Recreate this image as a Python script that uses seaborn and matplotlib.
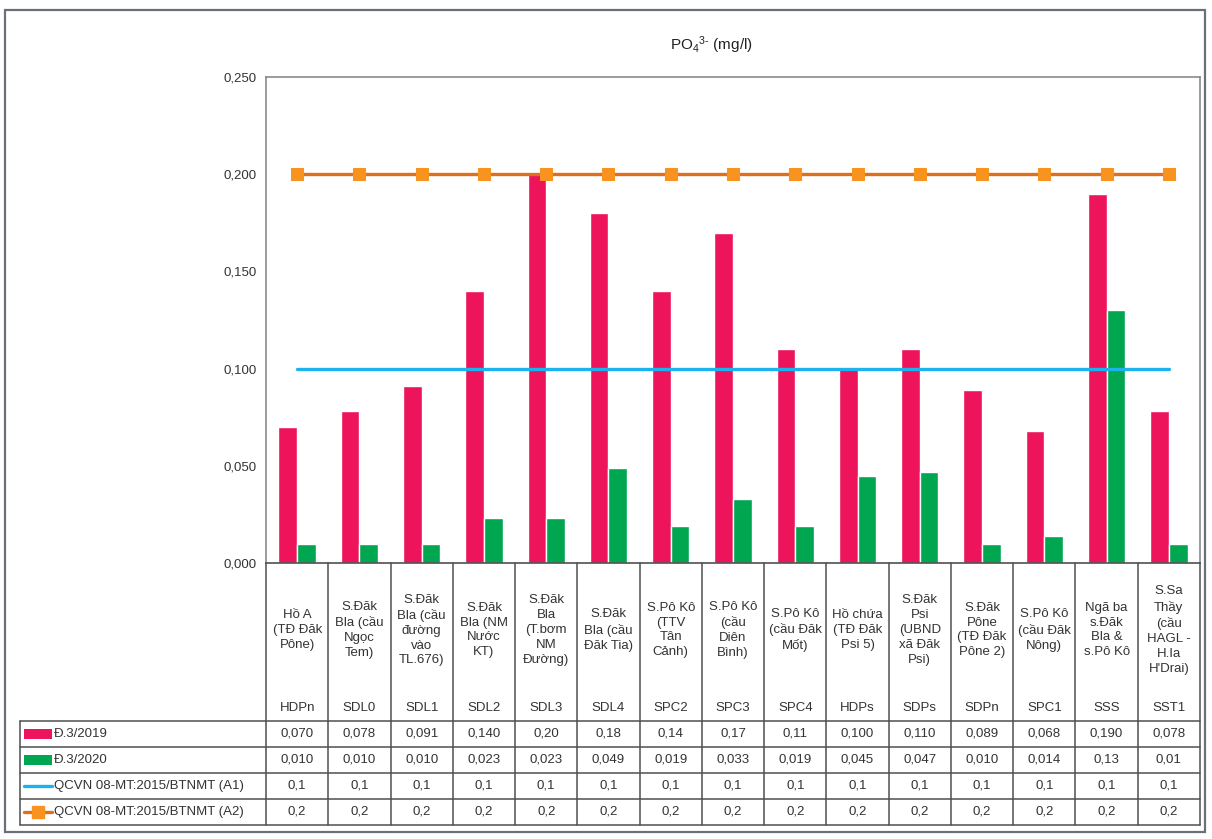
import numpy as np
import pandas as pd
import matplotlib
matplotlib.use("Agg")
import matplotlib.pyplot as plt
from matplotlib.patches import Rectangle
from matplotlib.lines import Line2D
import seaborn as sns

sns.set_style("white")
plt.rcParams["font.family"] = ["Liberation Sans", "DejaVu Sans"]
plt.rcParams["mathtext.fontset"] = "custom"
plt.rcParams["mathtext.rm"] = "Liberation Sans"
plt.rcParams["mathtext.default"] = "regular"

# ---- data -------------------------------------------------------------
site_names = [
    "Hồ A\n(TĐ Đăk\nPône)",
    "S.Đăk\nBla (cầu\nNgọc\nTem)",
    "S.Đăk\nBla (cầu\nđường\nvào\nTL.676)",
    "S.Đăk\nBla (NM\nNước\nKT)",
    "S.Đăk\nBla\n(T.bơm\nNM\nĐường)",
    "S.Đăk\nBla (cầu\nĐăk Tia)",
    "S.Pô Kô\n(TTV\nTân\nCảnh)",
    "S.Pô Kô\n(cầu\nDiên\nBình)",
    "S.Pô Kô\n(cầu Đăk\nMốt)",
    "Hồ chứa\n(TĐ Đăk\nPsi 5)",
    "S.Đăk\nPsi\n(UBND\nxã Đăk\nPsi)",
    "S.Đăk\nPône\n(TĐ Đăk\nPône 2)",
    "S.Pô Kô\n(cầu Đăk\nNông)",
    "Ngã ba\ns.Đăk\nBla &\ns.Pô Kô",
    "S.Sa\nThầy\n(cầu\nHAGL -\nH.Ia\nH'Drai)",
]
site_codes = ["HDPn", "SDL0", "SDL1", "SDL2", "SDL3", "SDL4", "SPC2", "SPC3",
              "SPC4", "HDPs", "SDPs", "SDPn", "SPC1", "SSS", "SST1"]

# table cells exactly as printed; numeric values are parsed from them
cells_2019 = ["0,070", "0,078", "0,091", "0,140", "0,20", "0,18", "0,14", "0,17",
              "0,11", "0,100", "0,110", "0,089", "0,068", "0,190", "0,078"]
cells_2020 = ["0,010", "0,010", "0,010", "0,023", "0,023", "0,049", "0,019", "0,033",
              "0,019", "0,045", "0,047", "0,010", "0,014", "0,13", "0,01"]
cells_a1 = ["0,1"] * 15
cells_a2 = ["0,2"] * 15

series_names = ["Đ.3/2019", "Đ.3/2020",
                "QCVN 08-MT:2015/BTNMT (A1)", "QCVN 08-MT:2015/BTNMT (A2)"]
y_ticks = [0.0, 0.05, 0.10, 0.15, 0.20, 0.25]


def to_num(cells):
    return [float(c.replace(",", ".")) for c in cells]


v2019, v2020, a1, a2 = map(to_num, (cells_2019, cells_2020, cells_a1, cells_a2))
n = len(site_codes)

bars = pd.DataFrame({
    "site": site_codes * 2,
    "value": v2019 + v2020,
    "series": [series_names[0]] * n + [series_names[1]] * n,
})

PINK, GREEN = "#EE145B", "#00A650"
BLUE, ORANGE, ORANGE_MK = "#1CB2EE", "#DE6F1C", "#F7931E"
GRID = "#505050"

# ---- layout (pixel helpers) ---------------------------------------------
W, H = 1212, 839
fig = plt.figure(figsize=(W / 100, H / 100), dpi=100)
fig.patch.set_facecolor("white")


def fx(px):
    return px / W


def fy(py):
    return 1 - py / H


PL, PR, PT, PB = 266, 1200, 77, 563   # plot area
TB = 825                              # table bottom
ROWS = [721, 747, 773, 799, 825]      # table row lines

# outer chart frame
fig.patches.append(Rectangle((fx(5), fy(832)), fx(1205) - fx(5), fy(10) - fy(832),
                             transform=fig.transFigure, fill=False,
                             edgecolor="#6b6f7a", lw=1.6, zorder=0))

ax = fig.add_axes([fx(PL), fy(PB), fx(PR) - fx(PL), fy(PT) - fy(PB)])

sns.barplot(data=bars, x="site", y="value", hue="series",
            palette=[PINK, GREEN], width=0.6, saturation=1,
            errorbar=None, legend=False, ax=ax, zorder=2)

sns.lineplot(x=np.arange(n), y=a1, ax=ax, color=BLUE, linewidth=2.4, zorder=3)
sns.lineplot(x=np.arange(n), y=a2, ax=ax, color=ORANGE, linewidth=2.4,
             marker="s", markersize=8.5, markerfacecolor=ORANGE_MK,
             markeredgecolor=ORANGE_MK, zorder=4)

ax.set_xlim(-0.5, n - 0.5)
ax.set_ylim(0, 0.25)
ax.set_yticks(y_ticks)
ax.set_yticklabels([f"{t:.3f}".replace(".", ",") for t in y_ticks],
                   fontsize=9.5, color="#333333")
ax.set_xticks(range(n))
ax.set_xticklabels([])
ax.tick_params(axis="both", length=0, pad=7)
ax.set_xlabel("")
ax.set_ylabel("")
for s in ax.spines.values():
    s.set_color("#8a8a8a")
    s.set_linewidth(1.2)
ax.spines["bottom"].set_color(GRID)

fig.text(fx(711), fy(45), r"PO$_4$$^{3\text{-}}$ (mg/l)", ha="center",
         va="center", fontsize=11, color="#222222")

# ---- data table under the plot ---------------------------------------------
tab = fig.add_axes([fx(PL), fy(TB), fx(PR) - fx(PL), fy(PB) - fy(TB)])
tab.set_xlim(-0.5, n - 0.5)
tab.set_ylim(TB, PB)
tab.axis("off")

unit_px = (PR - PL) / n
x_left = -0.5 - (PL - 20) / unit_px


def ux(px):
    return -0.5 + (px - PL) / unit_px


line_kw = dict(color=GRID, lw=1.1, clip_on=False)
for k in range(n + 1):
    tab.add_line(Line2D([k - 0.5, k - 0.5], [PB, TB], **line_kw))
tab.add_line(Line2D([x_left, x_left], [ROWS[0], TB], **line_kw))
for r in ROWS:
    tab.add_line(Line2D([x_left, n - 0.5], [r, r], **line_kw))

for i, (name, code) in enumerate(zip(site_names, site_codes)):
    tab.text(i, 630, name, ha="center", va="center", fontsize=9.5,
             linespacing=1.32, color="#333333", clip_on=False)
    tab.text(i, 708, code, ha="center", va="center", fontsize=9.5,
             color="#333333", clip_on=False)

row_cells = [cells_2019, cells_2020, cells_a1, cells_a2]
for r, cells in enumerate(row_cells):
    yc = (ROWS[r] + ROWS[r + 1]) / 2
    for i, c in enumerate(cells):
        tab.text(i, yc, c, ha="center", va="center", fontsize=9.5,
                 color="#333333", clip_on=False)
    tab.text(ux(54), yc, series_names[r], ha="left", va="center", fontsize=9.5,
             color="#333333", clip_on=False)

# legend keys inside the table
key_l, key_r = ux(24), ux(52)
for r, col in enumerate([PINK, GREEN]):
    yc = (ROWS[r] + ROWS[r + 1]) / 2
    tab.add_patch(Rectangle((key_l, yc - 5), key_r - key_l, 10, facecolor=col,
                            edgecolor="none", clip_on=False))
yc = (ROWS[2] + ROWS[3]) / 2
tab.add_line(Line2D([key_l, key_r], [yc, yc], color=BLUE, lw=2.4, clip_on=False))
yc = (ROWS[3] + ROWS[4]) / 2
tab.add_line(Line2D([key_l, key_r], [yc, yc], color=ORANGE, lw=2.4, clip_on=False))
tab.add_line(Line2D([(key_l + key_r) / 2], [yc], marker="s", markersize=8,
                    color=ORANGE_MK, lw=0, clip_on=False))

fig.savefig("out.png", dpi=100)
